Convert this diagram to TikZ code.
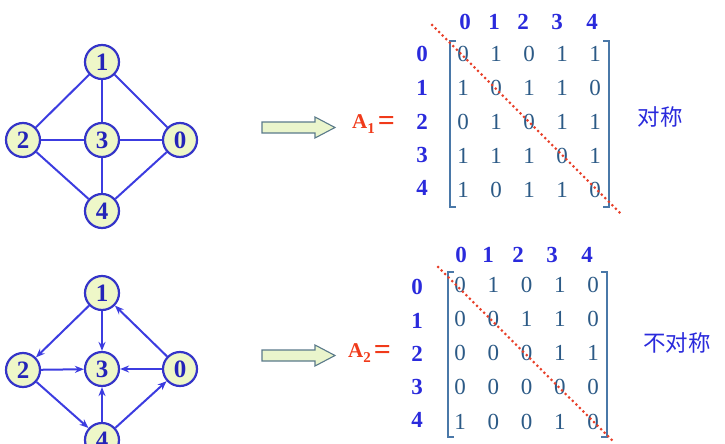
\documentclass[tikz,border=0pt]{standalone}
\usepackage{fontspec}
\setmainfont{Liberation Serif}
\newfontfamily\cjk{Noto Sans CJK SC}
\usetikzlibrary{arrows.meta}
\definecolor{edgeblue}{HTML}{3C3CE0}
\definecolor{ringblue}{HTML}{3434C8}
\definecolor{numblue}{HTML}{2424B8}
\definecolor{nodefill}{HTML}{EEF7C8}
\definecolor{brk}{HTML}{4A78A8}
\definecolor{entry}{HTML}{2C5A86}
\definecolor{hdr}{HTML}{2A2ADC}
\definecolor{lblred}{HTML}{F03A1A}
\definecolor{dotred}{HTML}{E8402A}
\definecolor{arrfill}{HTML}{EAF5CC}
\definecolor{arrline}{HTML}{5A7A8A}
\tikzset{
  vtx/.style={circle, draw=ringblue, line width=2.2pt, fill=nodefill, minimum size=34pt, inner sep=0pt,
    font=\fontsize{25}{25}\selectfont\bfseries, text=numblue},
  edge/.style={draw=edgeblue, line width=2pt},
  dedge/.style={draw=edgeblue, line width=2pt, -{Stealth[length=9pt,width=7pt]}},
  hdrtxt/.style={font=\fontsize{23}{23}\selectfont\bfseries, text=hdr, inner sep=0pt},
  ent/.style={font=\fontsize{23}{23}\selectfont, text=entry, inner sep=0pt},
  bracket/.style={draw=brk, line width=1.4pt},
  diag/.style={draw=dotred, line width=3pt, line cap=round, dash pattern=on 0pt off 5pt},
  bigarrow/.style={draw=arrline, line width=1.1pt, fill=arrfill},
  alabel/.style={font=\fontsize{21}{21}\selectfont\bfseries, text=lblred, inner sep=0pt},
  cjktxt/.style={font=\cjk\fontsize{22.5}{22.5}\selectfont, text=hdr, inner sep=0pt}
}
\newcommand{\biglbl}[1]{A\raisebox{-0.22em}{\fontsize{15}{15}\selectfont #1}\hspace{3pt}{\fontsize{30}{30}\selectfont\raisebox{-0.05em}{=}}}
\begin{document}
\begin{tikzpicture}[x=1pt,y=-1pt]
\useasboundingbox (0,0) rectangle (725,444);
% ---------- top graph ----------
\node[vtx] (t1) at (102,62) {1};
\node[vtx] (t2) at (23,140) {2};
\node[vtx] (t3) at (102,140) {3};
\node[vtx] (t0) at (180,140) {0};
\node[vtx] (t4) at (102,211) {4};
\draw[edge] (t1) -- (t2);
\draw[edge] (t1) -- (t3);
\draw[edge] (t1) -- (t0);
\draw[edge] (t2) -- (t3);
\draw[edge] (t3) -- (t0);
\draw[edge] (t2) -- (t4);
\draw[edge] (t3) -- (t4);
\draw[edge] (t0) -- (t4);
% ---------- bottom graph ----------
\node[vtx] (b1) at (102,293) {1};
\node[vtx] (b2) at (23,370) {2};
\node[vtx] (b3) at (102,369) {3};
\node[vtx] (b0) at (180,369) {0};
\node[vtx] (b4) at (102,440) {4};
\draw[dedge] (b1) -- (b2);
\draw[dedge] (b1) -- (b3);
\draw[dedge] (b0) -- (b1);
\draw[dedge] (b2) -- (b3);
\draw[dedge] (b0) -- (b3);
\draw[dedge] (b2) -- (b4);
\draw[dedge] (b4) -- (b3);
\draw[dedge] (b4) -- (b0);
% ---------- block arrows ----------
\draw[bigarrow] (262,122) -- (315,122) -- (315,117) -- (335,127.5) -- (315,138) -- (315,133) -- (262,133) -- cycle;
\draw[bigarrow] (262,350) -- (315,350) -- (315,345) -- (335,355.5) -- (315,366) -- (315,361) -- (262,361) -- cycle;
% ---------- labels ----------
\node[alabel, anchor=west] (la1) at (352,124) {\biglbl{1}};
\node[alabel, anchor=west] (la2) at (348,353) {\biglbl{2}};
\node[cjktxt] (sym) at (660,117) {对称};
\node[cjktxt] (nsym) at (677,343) {不对称};
% ---------- top matrix ----------
\foreach \c/\x in {0/465,1/494,2/523,3/557,4/592} {
  \node[hdrtxt] (th\c) at (\x,22) {\c};
}
\foreach \r/\y in {0/54,1/88,2/122,3/155,4/188} {
  \node[hdrtxt] (tr\r) at (422,\y) {\r};
}
\foreach \r/\y/\row in {0/54/{0,1,0,1,1},1/88/{1,0,1,1,0},2/122/{0,1,0,1,1},3/156/{1,1,1,0,1},4/190/{1,0,1,1,0}} {
  \foreach \v [count=\c from 0] in \row {
    \pgfmathsetmacro{\xx}{463+33*\c}
    \node[ent] (tm\r\c) at (\xx,\y) {\v};
  }
}
\draw[bracket] (456,41) -- (450,41) -- (450,207) -- (456,207);
\draw[bracket] (603,41) -- (609,41) -- (609,207) -- (603,207);
\coordinate (td1) at (432,25);
\coordinate (td2) at (620,213);
\draw[diag] (td1) -- (td2);
% ---------- bottom matrix ----------
\foreach \c/\x in {0/461,1/488,2/518,3/552,4/587} {
  \node[hdrtxt] (bh\c) at (\x,255) {\c};
}
\foreach \r/\y in {0/287,1/321,2/354,3/387,4/420} {
  \node[hdrtxt] (br\r) at (417,\y) {\r};
}
\foreach \r/\y/\row in {0/285/{0,1,0,1,0},1/319/{0,0,1,1,0},2/353/{0,0,0,1,1},3/387/{0,0,0,0,0},4/422/{1,0,0,1,0}} {
  \foreach \v [count=\c from 0] in \row {
    \pgfmathsetmacro{\xx}{460+33.3*\c}
    \node[ent] (bm\r\c) at (\xx,\y) {\v};
  }
}
\draw[bracket] (454,272) -- (448,272) -- (448,437) -- (454,437);
\draw[bracket] (601,272) -- (607,272) -- (607,437) -- (601,437);
\coordinate (bd1) at (438,267);
\coordinate (bd2) at (615,443);
\draw[diag] (bd1) -- (bd2);
\end{tikzpicture}
\end{document}
